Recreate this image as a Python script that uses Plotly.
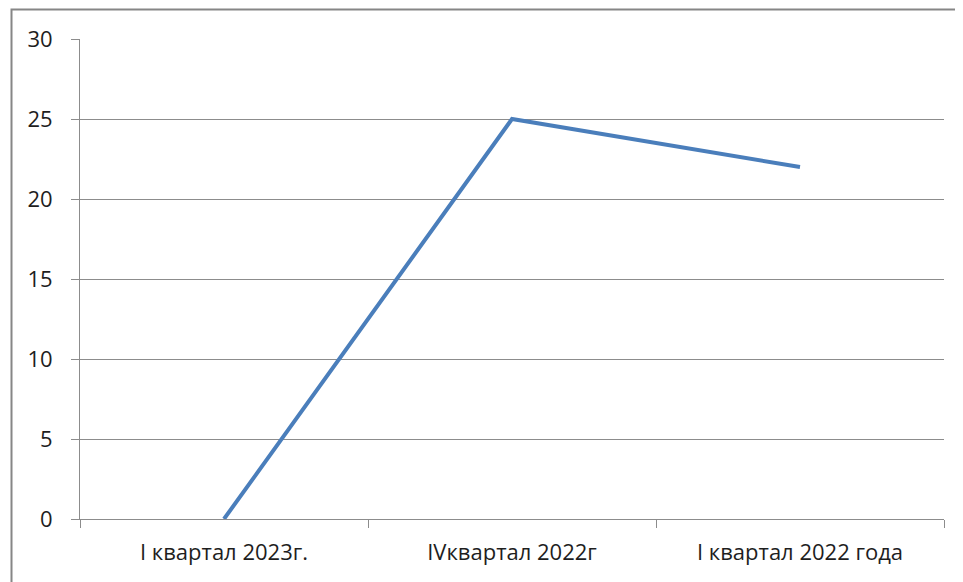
import plotly.graph_objects as go

categories = ["I квартал 2023г.", "IVквартал 2022г", "I квартал 2022 года"]
values = [0, 25, 22]
y_ticks = [0, 5, 10, 15, 20, 25, 30]

# page body margin offsets the figure by 8px
OFF = 8
W, H = 963 - OFF, 582 - OFF
L, R, T, B = 80 - OFF, 19 - OFF + 0, 39 - OFF, 63 - OFF
R = W - L - 864
B = H - T - 480
pw, ph = W - L - R, H - T - B

def px_x(x):
    return (x - OFF - L) / pw

def px_y(y):
    return (H - B - (y - OFF)) / ph

fig = go.Figure()
fig.add_trace(go.Scatter(
    x=categories, y=values, mode="lines",
    line=dict(color="#4A7EBB", width=4),
    showlegend=False, hoverinfo="skip",
))

font = dict(family="Open Sans, Liberation Sans, sans-serif", size=22, color="#1E1E1E")

fig.update_layout(
    width=W, height=H,
    margin=dict(l=L, r=R, t=T, b=B),
    paper_bgcolor="white", plot_bgcolor="white",
    font=font,
    xaxis=dict(
        type="category", tickson="boundaries",
        ticks="outside", ticklen=8, tickcolor="#8C8C8C", tickwidth=1,
        showgrid=False, showline=True, linecolor="#8C8C8C", linewidth=1,
        tickfont=font, range=[-0.5, 2.5], fixedrange=True,
        ticklabelstandoff=14,
    ),
    yaxis=dict(
        range=[0, 30], tickvals=y_ticks,
        ticks="outside", ticklen=8, tickcolor="#8C8C8C", tickwidth=1,
        showgrid=True, gridcolor="#8C8C8C", gridwidth=1,
        showline=True, linecolor="#8C8C8C", linewidth=1,
        zeroline=False, tickfont=font, ticklabelstandoff=14,
        fixedrange=True,
    ),
    shapes=[dict(
        type="rect", xref="paper", yref="paper",
        x0=px_x(11.5), x1=px_x(975), y0=px_y(595), y1=px_y(9.5),
        line=dict(color="#868686", width=2), fillcolor="rgba(0,0,0,0)",
        layer="above",
    )],
)

fig.write_html("out.html")
